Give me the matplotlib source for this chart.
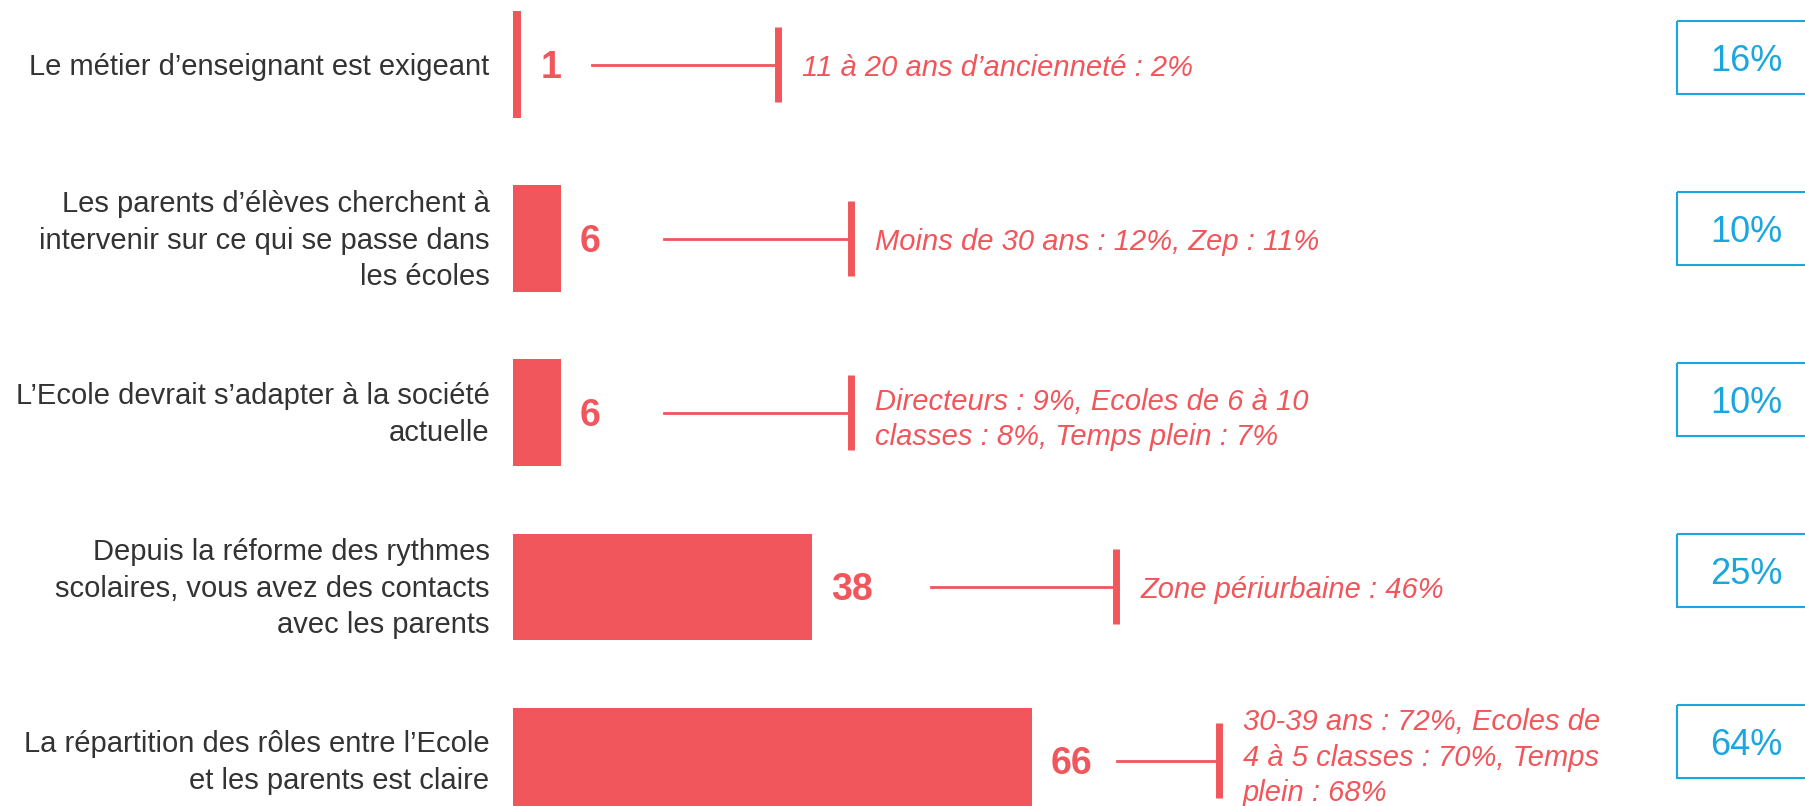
import matplotlib.pyplot as plt
from matplotlib.patches import Rectangle

plt.rcParams['font.family'] = ['Liberation Sans', 'DejaVu Sans']

RED = '#F0565B'
BLUE = '#1AA7DF'
GREY = '#333333'

categories = [
    "Le métier d’enseignant est exigeant",
    "Les parents d’élèves cherchent à\nintervenir sur ce qui se passe dans\nles écoles",
    "L’Ecole devrait s’adapter à la société\nactuelle",
    "Depuis la réforme des rythmes\nscolaires, vous avez des contacts\navec les parents",
    "La répartition des rôles entre l’Ecole\net les parents est claire",
]
values = [1, 6, 6, 38, 66]
details = [
    "11 à 20 ans d’ancienneté : 2%",
    "Moins de 30 ans : 12%, Zep : 11%",
    "Directeurs : 9%, Ecoles de 6 à 10\nclasses : 8%, Temps plein : 7%",
    "Zone périurbaine : 46%",
    "30-39 ans : 72%, Ecoles de\n4 à 5 classes : 70%, Temps\nplein : 68%",
]
compare = ["16%", "10%", "10%", "25%", "64%"]

# layout (value-axis units): where the connector starts / ends for each row
link_start = [10.0, 19.2, 19.2, 53.1, 76.8]
link_end = [33.7, 42.9, 42.9, 76.7, 89.8]
# small vertical nudges (pixels) for the detail texts
detail_dy = [-3, -3, -7, -3, 3]

fig = plt.figure(figsize=(18.06, 8.06), dpi=100)
ax = fig.add_axes([0, 0, 1, 1])
ax.set_xlim(-65.34, 164.5)
ax.set_ylim(4.261, -0.371)
ax.axis('off')

rows = list(range(len(values)))
ax.barh(rows, values, height=0.61, color=RED, left=0)

for i in rows:
    # category label on the left
    ax.annotate(categories[i], xy=(0, i), xytext=(-24, -2), textcoords='offset pixels',
                ha='right', va='center', fontsize=21, color=GREY, linespacing=1.4)
    # value label
    ax.annotate(str(values[i]), xy=(values[i], i), xytext=(19, 1), textcoords='offset pixels',
                ha='left', va='center_baseline', fontsize=27, fontweight='bold', color=RED)
    # connector + tick
    ax.plot([link_start[i], link_end[i]], [i, i], color=RED, lw=2)
    ax.plot([link_end[i], link_end[i]], [i - 0.215, i + 0.215], color=RED, lw=5,
            solid_capstyle='butt')
    ax.annotate(details[i], xy=(link_end[i], i), xytext=(24, detail_dy[i]),
                textcoords='offset pixels', ha='left', va='center', fontsize=21,
                style='italic', color=RED, linespacing=1.35)
    # blue comparison box
    yb = (57 + 171 * i - 64.5) / 174
    ax.add_patch(Rectangle((148.1, yb - 0.21), 17.6, 0.42, fill=False,
                           edgecolor=BLUE, lw=1.5))
    ax.text(156.9, yb, compare[i], ha='center', va='center_baseline', fontsize=26, color=BLUE)

fig.savefig('out.png', dpi=100)
